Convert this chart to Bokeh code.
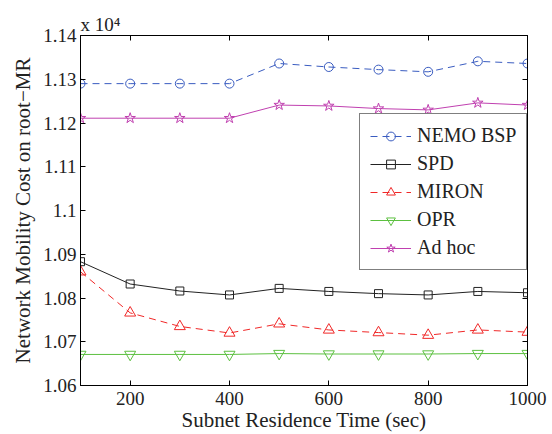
from bokeh.plotting import figure
from bokeh.models import LinearAxis, FixedTicker, CustomJSTickFormatter
from bokeh.embed import file_html
from bokeh.resources import INLINE

# ---- data (cost in units of x 10^4) ----
residence_time = [100, 200, 300, 400, 500, 600, 700, 800, 900, 1000]
nemo_bsp = [1.1290, 1.1290, 1.1290, 1.1290, 1.1336, 1.1328, 1.1322, 1.1317, 1.1341, 1.1336]
spd = [1.0883, 1.0832, 1.0816, 1.0807, 1.0822, 1.0815, 1.0810, 1.0807, 1.0815, 1.0812]
miron = [1.0860, 1.0766, 1.0735, 1.0720, 1.0741, 1.0727, 1.0721, 1.0715, 1.0727, 1.0722]
opr = [1.0671, 1.0671, 1.0671, 1.0671, 1.0673, 1.0672, 1.0672, 1.0672, 1.0673, 1.0673]
ad_hoc = [1.1211, 1.1211, 1.1211, 1.1211, 1.1241, 1.1239, 1.1233, 1.1230, 1.1246, 1.1241]

x_ticks = [200, 400, 600, 800, 1000]
y_ticks = [1.06, 1.07, 1.08, 1.09, 1.10, 1.11, 1.12, 1.13, 1.14]

series_names = ["NEMO BSP", "SPD", "MIRON", "OPR", "Ad hoc"]
series_values = [nemo_bsp, spd, miron, opr, ad_hoc]
series_colors = ["#3a5cc0", "#222222", "#f02828", "#5cc040", "#c040b0"]
series_markers = ["circle", "square", "triangle", "inverted_triangle", "star"]
series_sizes = [9, 8, 11, 11, 11]
series_dash = ["7 5", "solid", "7 5", "solid", "solid"]

FONT = "'Liberation Serif', 'Times New Roman', serif"

p = figure(width=552, height=434, x_range=(100, 1000), y_range=(1.06, 1.14),
           output_backend="svg", toolbar_location=None,
           min_border_left=80, min_border_right=25, min_border_top=35, min_border_bottom=47)
p.grid.visible = False
p.outline_line_color = "black"
p.outline_line_width = 1
p.background_fill_color = "white"

# scale note shown above the axis (as in the reference, "x 10^4")
p.title.text = "x 10\u2074"
p.title.align = "left"
p.title.offset = 0
p.title.standoff = 2
p.title.text_font = FONT
p.title.text_font_size = "19px"
p.title.text_font_style = "normal"
p.title.text_color = "#222222"

for name, vals, col, mk, sz, dash in zip(series_names, series_values, series_colors,
                                         series_markers, series_sizes, series_dash):
    p.line(residence_time, vals, line_color=col, line_width=1, line_dash=dash, legend_label=name)
    p.scatter(residence_time, vals, marker=mk, size=sz, fill_color=None, line_color=col,
              line_width=1, legend_label=name)

def style_axis(ax):
    ax.major_tick_in = 5
    ax.major_tick_out = 0
    ax.minor_tick_line_color = None
    ax.axis_line_color = "black"
    ax.major_tick_line_color = "black"
    ax.major_label_text_font = FONT
    ax.major_label_text_font_size = "19px"
    ax.major_label_text_color = "#222222"
    ax.axis_label_text_font = FONT
    ax.axis_label_text_font_size = "21px"
    ax.axis_label_text_font_style = "normal"
    ax.axis_label_text_color = "#222222"

p.xaxis.ticker = FixedTicker(ticks=x_ticks)
p.yaxis.ticker = FixedTicker(ticks=y_ticks)
p.yaxis.formatter = CustomJSTickFormatter(code="return tick.toFixed(2).replace(/0$/, '');")
p.xaxis.axis_label = "Subnet Residence Time (sec)"
p.yaxis.axis_label = "Network Mobility Cost on root\u2212MR"
style_axis(p.xaxis[0])
style_axis(p.yaxis[0])
p.xaxis.major_label_standoff = 6
p.xaxis.axis_label_standoff = 0
p.yaxis.major_label_standoff = 4
p.yaxis.axis_label_standoff = 5

right_ax = LinearAxis(ticker=FixedTicker(ticks=y_ticks),
                      formatter=CustomJSTickFormatter(code="return '';"))
top_ax = LinearAxis(ticker=FixedTicker(ticks=x_ticks),
                    formatter=CustomJSTickFormatter(code="return '';"))
for ax in (right_ax, top_ax):
    style_axis(ax)
    ax.major_label_standoff = 0
p.add_layout(right_ax, "right")
p.add_layout(top_ax, "above")

lg = p.legend[0]
lg.location = (279, 115)
lg.label_text_font = FONT
lg.label_text_font_size = "20px"
lg.label_text_color = "#222222"
lg.glyph_width = 41
lg.glyph_height = 22
lg.label_standoff = 6
lg.padding = 10
lg.spacing = 5
lg.margin = 0
lg.border_line_color = "black"
lg.border_line_width = 1.3
lg.background_fill_alpha = 1.0

open("out.html", "w").write(file_html(p, INLINE))
